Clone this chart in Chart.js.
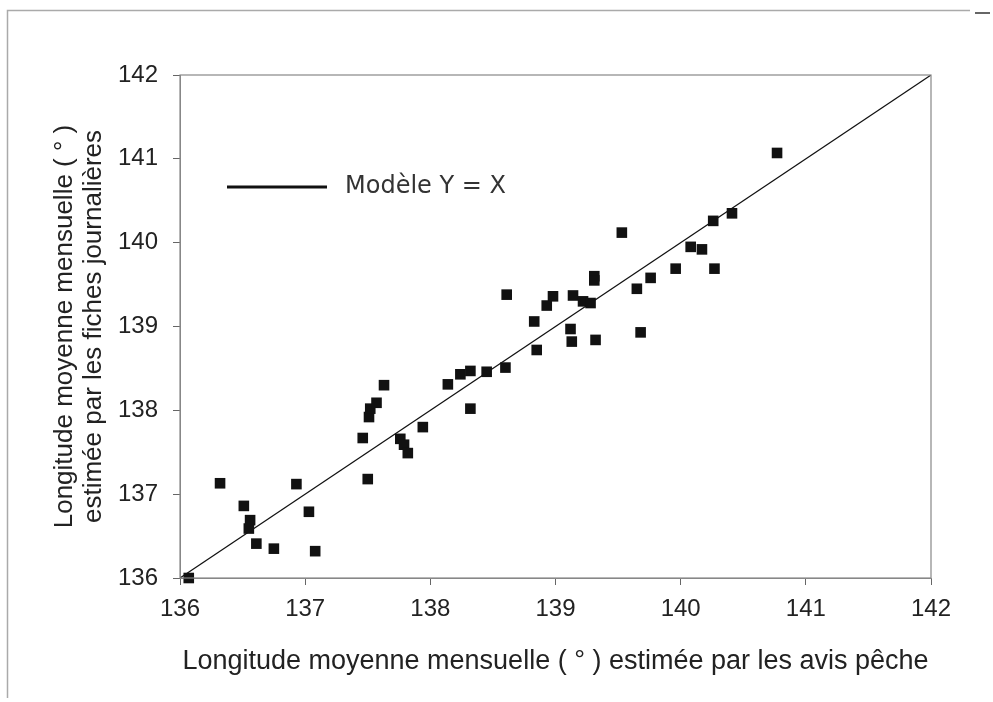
<!DOCTYPE html>
<html lang="fr">
<head>
  <meta charset="UTF-8">
  <title>Longitude moyenne mensuelle</title>
  <script src="https://cdn.jsdelivr.net/npm/chart.js"></script>
  <style>
    html, body { margin: 0; padding: 0; background: #fff; }
    #wrap { width: 993px; height: 702px; }
  </style>
</head>
<body>
  <div id="wrap"><canvas id="chart" width="993" height="702"></canvas></div>

  <script>
    // longitude estimée par les avis pêche (x)
    const avisPeche = [
      136.07, 136.32, 136.51, 136.56, 136.55, 136.61, 136.75, 136.93, 137.03, 137.08,
      137.46, 137.50, 137.51, 137.52, 137.57, 137.63, 137.76, 137.79, 137.82, 137.94,
      138.14, 138.24, 138.32, 138.32, 138.45, 138.60, 138.85, 138.61, 138.83,
      138.98, 138.93, 139.14, 139.22, 139.28, 139.12, 139.13, 139.32, 139.31, 139.31,
      139.53, 139.65, 139.68, 139.76, 139.96, 140.08, 140.17, 140.26, 140.27, 140.41, 140.77
    ];
    // longitude estimée par les fiches journalières (y)
    const fichesJournalieres = [
      136.00, 137.13, 136.86, 136.69, 136.59, 136.41, 136.35, 137.12, 136.79, 136.32,
      137.67, 137.18, 137.92, 138.02, 138.09, 138.30, 137.66, 137.59, 137.49, 137.80,
      138.31, 138.43, 138.47, 138.02, 138.46, 138.51, 138.72, 139.38, 139.06,
      139.36, 139.25, 139.37, 139.30, 139.28, 138.97, 138.82, 138.84, 139.60, 139.55,
      140.12, 139.45, 138.93, 139.58, 139.69, 139.95, 139.92, 140.26, 139.69, 140.35, 141.07
    ];
    // modèle Y = X
    const modele = [136, 142];
    const ticks = [136, 137, 138, 139, 140, 141, 142];

    const points = avisPeche.map((x, i) => ({ x: x, y: fichesJournalieres[i] }));
    const ligne = modele.map(v => ({ x: v, y: v }));

    const textColor = '#222';
    const tickFont = { family: 'Liberation Sans', size: 24 };

    // cadre autour du graphique + légende
    const cadre = {
      id: 'cadre',
      beforeDraw(chart) {
        const c = chart.ctx;
        c.save();
        c.strokeStyle = '#aaa';
        c.lineWidth = 1.5;
        c.beginPath();
        c.moveTo(970, 10.5); c.lineTo(7.5, 10.5); c.lineTo(7.5, 698);
        c.stroke();
        c.strokeStyle = '#333';
        c.beginPath(); c.moveTo(975, 13); c.lineTo(990, 13); c.stroke();
        c.restore();
      },
      afterDraw(chart) {
        const a = chart.chartArea;
        const c = chart.ctx;
        c.save();
        c.strokeStyle = '#888';
        c.lineWidth = 1.2;
        c.strokeRect(a.left, a.top, a.right - a.left, a.bottom - a.top);

        // légende
        c.strokeStyle = '#111';
        c.lineWidth = 3;
        c.beginPath(); c.moveTo(227, 187); c.lineTo(327, 187); c.stroke();
        c.fillStyle = '#333';
        c.font = '24px "DejaVu Sans"';
        c.textBaseline = 'middle';
        c.textAlign = 'left';
        c.fillText('Modèle Y = X', 345, 187);
        c.restore();
      }
    };

    new Chart(document.getElementById('chart'), {
      type: 'scatter',
      data: {
        datasets: [
          {
            label: 'Observations',
            data: points,
            pointStyle: 'rect',
            pointRadius: 7.5,
            backgroundColor: '#111',
            borderColor: '#111',
            borderWidth: 0,
            clip: false
          },
          {
            label: 'Modèle Y = X',
            type: 'line',
            data: ligne,
            borderColor: '#111',
            borderWidth: 1.2,
            pointRadius: 0,
            fill: false
          }
        ]
      },
      options: {
        responsive: false,
        animation: false,
        layout: { padding: { left: 0, top: 75, right: 62, bottom: 0 } },
        plugins: { legend: { display: false }, tooltip: { enabled: false } },
        scales: {
          x: {
            type: 'linear',
            min: 136, max: 142,
            afterBuildTicks: s => { s.ticks = ticks.map(v => ({ value: v })); },
            afterFit: s => { s.height = 124; },
            grid: { drawOnChartArea: false, tickLength: 7, color: '#666' },
            border: { color: '#888' },
            ticks: { color: textColor, font: tickFont, padding: 10 },
            title: {
              display: true,
              text: 'Longitude moyenne mensuelle ( ° ) estimée par les avis pêche',
              color: textColor,
              font: { family: 'Liberation Sans', size: 27 },
              padding: { top: 0, bottom: 24 }
            }
          },
          y: {
            type: 'linear',
            min: 136, max: 142,
            afterBuildTicks: s => { s.ticks = ticks.map(v => ({ value: v })); },
            afterFit: s => { s.width = 180; },
            grid: { drawOnChartArea: false, tickLength: 7, color: '#666' },
            border: { color: '#888' },
            ticks: { color: textColor, font: tickFont, padding: 15 },
            title: {
              display: true,
              text: ['Longitude moyenne mensuelle ( ° )', 'estimée par les fiches journalières'],
              color: textColor,
              font: { family: 'Liberation Sans', size: 26, lineHeight: 1.1 },
              padding: { top: 51, bottom: 0 }
            }
          }
        }
      },
      plugins: [cadre]
    });
  </script>
</body>
</html>
